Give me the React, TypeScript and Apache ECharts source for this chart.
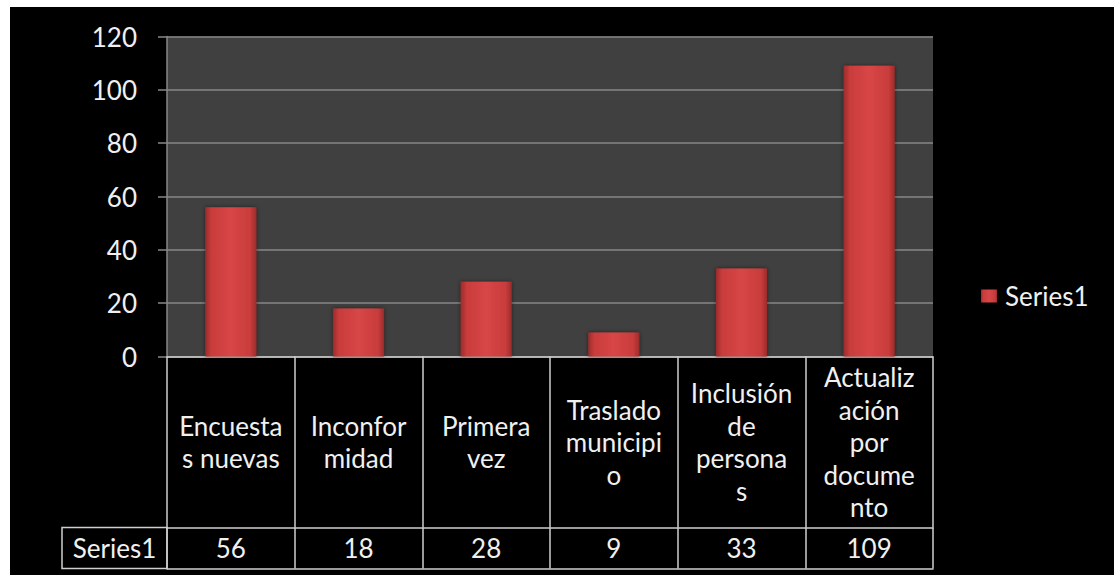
import React, { useEffect, useRef } from "react";
import * as echarts from "echarts";

const categories = [
  "Encuestas nuevas",
  "Inconformidad",
  "Primera vez",
  "Traslado municipio",
  "Inclusión de personas",
  "Actualización por documento",
];
const categoryLabels = [
  "Encuesta\ns nuevas",
  "Inconfor\nmidad",
  "Primera\nvez",
  "Traslado\nmunicipi\no",
  "Inclusión\nde\npersona\ns",
  "Actualiz\nación\npor\ndocume\nnto",
];
const seriesName = "Series1";
const seriesValues = [56, 18, 28, 9, 33, 109];
const yTicks = { min: 0, max: 120, interval: 20 };

const FONT = "Lato, 'Open Sans', sans-serif";
const FS = 26;
const TEXT = "#f0f0f0";
const LINE = "#cfcfcf";
const GRIDLINE = "#878787";

const W = 1104;
const H = 568;
const G_LEFT = 157;
const G_RIGHT = 181;
const G_TOP = 29.5;
const G_BOTTOM = 218.5;
const CAT_ROW = 171;
const VAL_ROW = 41;

export default function App() {
  const ref = useRef<HTMLDivElement>(null);
  useEffect(() => {
    if (!ref.current) return;
    const chart = echarts.init(ref.current, undefined, { renderer: "svg" });
    const axisBottom = H - G_BOTTOM;
    chart.setOption({
      animation: false,
      backgroundColor: "#000000",
      textStyle: { fontFamily: FONT },
      grid: {
        left: G_LEFT,
        right: G_RIGHT,
        top: G_TOP,
        bottom: G_BOTTOM,
        show: true,
        backgroundColor: "#404040",
        borderWidth: 0,
      },
      legend: {
        data: [seriesName],
        left: 966,
        top: 271,
        icon: "rect",
        itemWidth: 16,
        itemHeight: 13,
        textStyle: { color: TEXT, fontSize: FS, fontFamily: FONT, padding: [0, 0, 0, 3] },
      },
      xAxis: [
        {
          type: "category",
          data: categories,
          position: "bottom",
          axisLine: { show: true, lineStyle: { color: LINE, width: 1.5 } },
          axisTick: { show: true, length: CAT_ROW, interval: 0, lineStyle: { color: LINE, width: 1.5 } },
          axisLabel: {
            interval: 0,
            margin: CAT_ROW / 2,
            verticalAlign: "middle",
            align: "center",
            color: TEXT,
            fontSize: FS,
            lineHeight: 32.5,
            fontFamily: FONT,
            formatter: (_v: string, i: number) => categoryLabels[i],
          },
        },
        {
          type: "category",
          data: categories,
          position: "bottom",
          offset: CAT_ROW,
          axisLine: { show: true, lineStyle: { color: LINE, width: 1.5 } },
          axisTick: { show: true, length: VAL_ROW, interval: 0, lineStyle: { color: LINE, width: 1.5 } },
          axisLabel: {
            interval: 0,
            margin: VAL_ROW / 2,
            verticalAlign: "middle",
            align: "center",
            color: TEXT,
            fontSize: FS,
            fontFamily: FONT,
            formatter: (_v: string, i: number) => String(seriesValues[i]),
          },
        },
        {
          type: "category",
          data: categories,
          position: "bottom",
          offset: CAT_ROW + VAL_ROW,
          axisLine: { show: true, lineStyle: { color: LINE, width: 1.5 } },
          axisTick: { show: false },
          axisLabel: { show: false },
        },
      ],
      yAxis: {
        type: "value",
        min: yTicks.min,
        max: yTicks.max,
        interval: yTicks.interval,
        axisLine: { show: true, lineStyle: { color: GRIDLINE, width: 1.5 } },
        axisTick: { show: true, length: 9, lineStyle: { color: GRIDLINE, width: 1.5 } },
        splitLine: { show: true, lineStyle: { color: GRIDLINE, width: 1.5 } },
        axisLabel: { color: TEXT, fontSize: FS, margin: 30, fontFamily: FONT },
      },
      series: [
        {
          name: seriesName,
          type: "bar",
          data: seriesValues,
          barWidth: "40%",
          itemStyle: {
            color: new echarts.graphic.LinearGradient(0, 0, 1, 0, [
              { offset: 0, color: "#9c2b2b" },
              { offset: 0.12, color: "#c93c3c" },
              { offset: 0.5, color: "#d84646" },
              { offset: 0.88, color: "#c93c3c" },
              { offset: 1, color: "#9c2b2b" },
            ]),
            shadowColor: "rgba(0,0,0,0.5)",
            shadowBlur: 4,
          },
        },
      ],
      graphic: [
        {
          type: "rect",
          shape: { x: 52, y: axisBottom + CAT_ROW, width: G_LEFT - 52, height: VAL_ROW },
          style: { fill: "none", stroke: LINE, lineWidth: 1.5 },
        },
        {
          type: "text",
          x: (52 + G_LEFT) / 2,
          y: axisBottom + CAT_ROW + VAL_ROW / 2,
          style: {
            text: seriesName,
            fill: TEXT,
            font: `${FS}px ${FONT}`,
            align: "center",
            verticalAlign: "middle",
          },
        },
      ],
    });
    return () => chart.dispose();
  }, []);
  return (
    <div
      ref={ref}
      style={{ position: "absolute", left: 10, top: 7, width: W, height: H }}
    />
  );
}
